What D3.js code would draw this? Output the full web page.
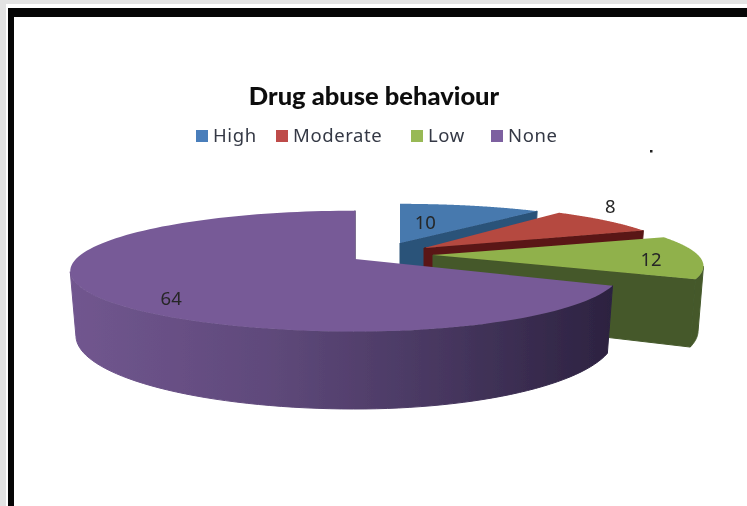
<!DOCTYPE html>
<html>
<head>
<meta charset="utf-8">
<script src="https://cdn.jsdelivr.net/npm/d3@7"></script>
<style>html,body{margin:0;padding:0;background:#fff;overflow:hidden}svg{display:block}</style>
</head>
<body>
<svg id="c" width="747" height="506"></svg>
<script>
const categories = ["High", "Moderate", "Low", "None"];
const values = [10, 8, 12, 64];
const titleText = "Drug abuse behaviour";

// styles
const topColors = ["#4679ae", "#b5483f", "#90b14c", "#775a97"];
const sideColors = ["#2b5279", "#5a1816", "#44582a", "url(#purpleWall)"];
const legendColors = ["#4a7ebb", "#be4b48", "#98b954", "#7d60a0"];

// layout of each exploded slice in the tilted view
const apexX = [400, 424, 433, 355];
const apexY = [243, 248, 255, 259];
const radiusX = [256, 252, 265, 260];
const radiusY = [47, 52, 53, 58];
const radiusXLeft = 279;
const perspective = 0.2, depth = 62, bottomShrink = 0.02;
const legendX = [196, 276, 411, 491];
const labelNudgeX = [-6, 5, 5, -33];
const labelNudgeY = [-5, -15, 2, 18];
const labelFraction = [0.4, 1, 0.8, 0.6];

const svg = d3.select("#c");
const defs = svg.append("defs");
defs.append("filter").attr("id", "soft").attr("x", "-5%").attr("y", "-5%").attr("width", "110%").attr("height", "110%")
  .append("feGaussianBlur").attr("stdDeviation", 0.55);
const grad = defs.append("linearGradient").attr("id", "purpleWall")
  .attr("gradientUnits", "userSpaceOnUse").attr("x1", 70).attr("x2", 612).attr("y1", 0).attr("y2", 0);
[[0, "#71568f"], [0.35, "#604a7c"], [0.65, "#4a3963"], [1, "#2c2240"]].forEach(s =>
  grad.append("stop").attr("offset", s[0]).attr("stop-color", s[1]));

// frame
svg.append("rect").attr("width", 747).attr("height", 506).attr("fill", "#e3e3e3");
svg.append("rect").attr("x", 6).attr("y", 4).attr("width", 741).attr("height", 502).attr("fill", "#fff");
svg.append("rect").attr("x", 8).attr("y", 8).attr("width", 739).attr("height", 498).attr("fill", "#060606");
svg.append("rect").attr("x", 14).attr("y", 17).attr("width", 733).attr("height", 489).attr("fill", "#fff");

const g = svg.append("g").attr("filter", "url(#soft)");

const pie = d3.pie().sort(null).value(d => d)(values);

function project(i, angle, frac = 1, drop = 0) {
  const u = Math.cos(angle) * frac, v = Math.sin(angle) * frac;
  const s = 1 / (1 + perspective * u);
  const rx = (v < 0 ? radiusXLeft : radiusX[i]) * (1 - bottomShrink * drop);
  return [apexX[i] + rx * v * s, apexY[i] - radiusY[i] * u * s + drop * depth * s];
}
const line = d3.line();
function angles(a0, a1) {
  const t = d3.scaleLinear().domain([0, 120]).range([a0, a1]);
  return d3.range(121).map(t);
}

pie.forEach((p, i) => {
  const sweep = angles(p.startAngle, p.endAngle);
  const top = sweep.map(a => project(i, a, 1, 0));
  const bottom = sweep.map(a => project(i, a, 1, 1));
  // outer wall: only the part of the rim that faces the viewer
  const front = sweep.filter(a => Math.cos(a) < -perspective);
  if (front.length > 1) {
    const upper = front.map(a => project(i, a, 1, 0));
    const lower = front.map(a => project(i, a, 1, 1)).reverse();
    g.append("path").attr("d", line(upper.concat(lower)) + "Z")
      .attr("fill", sideColors[i]).attr("stroke", sideColors[i]).attr("stroke-width", 1);
  }
  // radial face at the end of the slice
  const tipTop = top[top.length - 1], tipBot = bottom[bottom.length - 1];
  const a = project(i, 0, 0, 0), b = project(i, 0, 0, 1);
  g.append("path").attr("d", line([a, tipTop, tipBot, b]) + "Z")
    .attr("fill", sideColors[i]).attr("stroke", sideColors[i]).attr("stroke-width", 1);
  // top face
  g.append("path").attr("d", line([a].concat(top)) + "Z").attr("fill", topColors[i]);
});

// data labels
pie.forEach((p, i) => {
  const q = project(i, (p.startAngle + p.endAngle) / 2, labelFraction[i], 0);
  g.append("text").attr("x", q[0] + labelNudgeX[i]).attr("y", q[1] + labelNudgeY[i])
    .attr("text-anchor", "middle").attr("dominant-baseline", "central")
    .attr("font-family", "'Noto Sans'").attr("font-size", 18.5).attr("fill", "#262626")
    .text(values[i]);
});

// title
g.append("text").attr("x", 374).attr("y", 105).attr("text-anchor", "middle")
  .attr("font-family", "Lato").attr("font-weight", 900).attr("font-size", 25.5).attr("fill", "#111")
  .text(titleText);

// legend
categories.forEach((c, i) => {
  g.append("rect").attr("x", legendX[i]).attr("y", 130).attr("width", 12).attr("height", 12).attr("fill", legendColors[i]);
  g.append("text").attr("x", legendX[i] + 17).attr("y", 142)
    .attr("font-family", "'Noto Sans'").attr("font-size", 18.5).attr("letter-spacing", 0.6).attr("fill", "#343945")
    .text(c);
});

// stray dot in the picture
svg.append("rect").attr("x", 650).attr("y", 150).attr("width", 2.5).attr("height", 2.5).attr("fill", "#222");
</script>
</body>
</html>
